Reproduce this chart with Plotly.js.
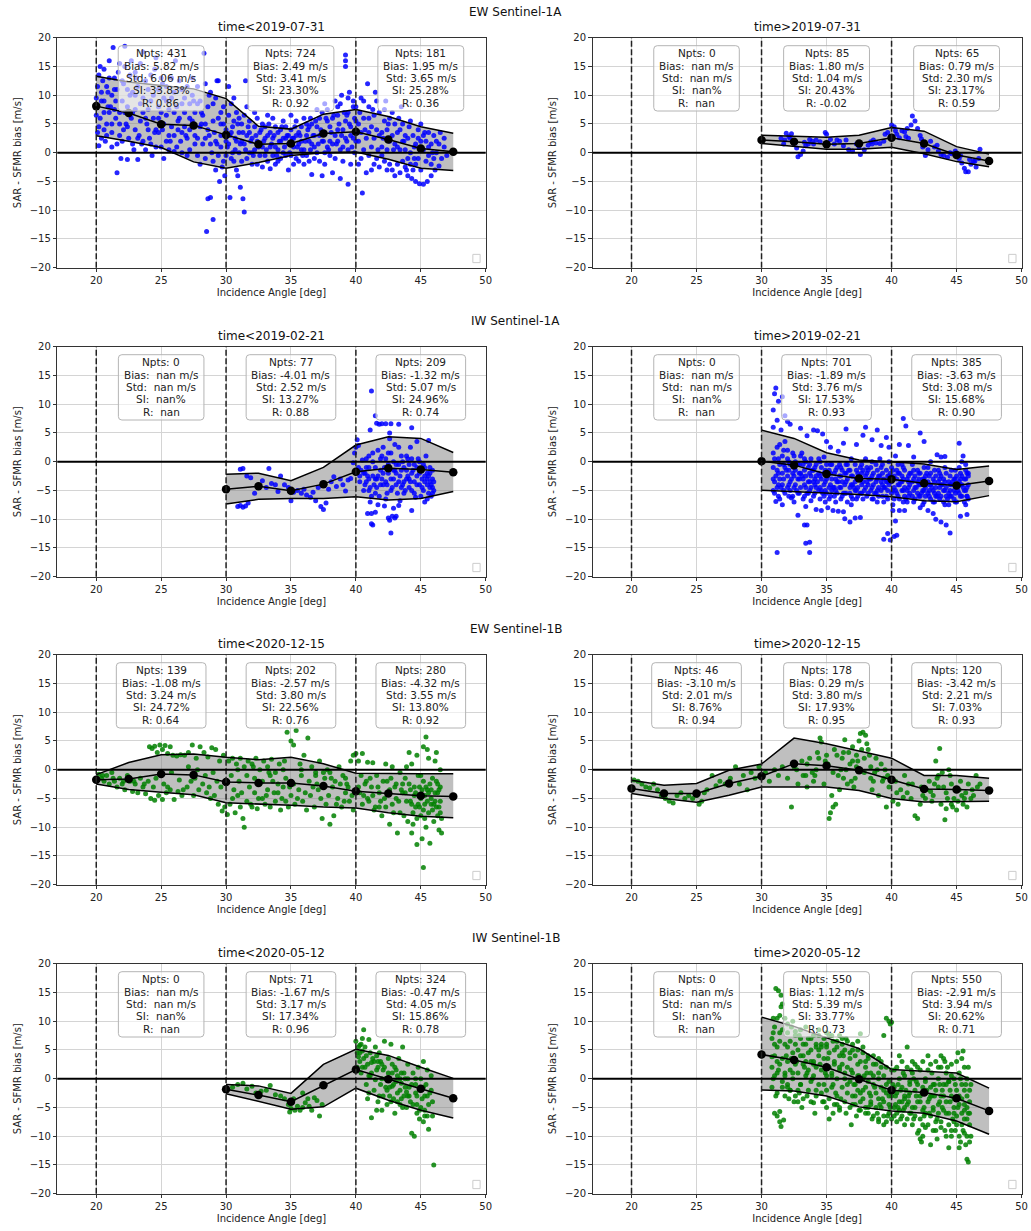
<!DOCTYPE html>
<html><head><meta charset="utf-8">
<script src="https://cdn.plot.ly/plotly-3.0.1.min.js"></script>
<style>body{margin:0;padding:0;background:#fff}#chart{width:1031px;height:1231px}</style>
</head><body><div id="chart"></div>
<script>
const bins = [20,22.5,25,27.5,30,32.5,35,37.5,40,42.5,45,47.5];
const boundaries = [20,30,40];
const boxCenters = [25,35,45];
const refY = 0;
const rowTitles = ['EW Sentinel-1A','IW Sentinel-1A','EW Sentinel-1B','IW Sentinel-1B'];
const panelTitles = ['time<2019-07-31','time>2019-07-31','time<2019-02-21','time>2019-02-21',
                     'time<2020-12-15','time>2020-12-15','time<2020-05-12','time>2020-05-12'];
const pointColors = ['#0000ff','#0000ff','#0000ff','#0000ff','#008000','#008000','#008000','#008000'];

// binned mean / mean+std / mean-std per panel (null = empty bin)
const mean1 = [8.1,6.9,4.95,4.75,3.1,1.45,1.6,3.35,3.65,2.3,0.75,0.15];
const upper1 = [13.3,12.3,11.7,11.1,9.4,4.6,4.1,6.7,7.5,6.3,4.5,3.4];
const lower1 = [2.95,2.0,0.9,-1.6,-2.7,-1.7,-0.5,0.0,0.1,-1.15,-2.7,-3.1];
const mean2 = [null,null,null,null,2.2,1.9,1.45,1.6,2.6,1.6,-0.4,-1.45];
const upper2 = [null,null,null,null,3.05,2.9,2.7,3.05,4.4,3.75,1.05,-0.25];
const lower2 = [null,null,null,null,1.6,1.05,0.6,0.6,0.95,-0.2,-1.55,-2.45];
const mean3 = [null,null,null,null,-4.8,-4.25,-5.05,-3.9,-1.75,-1.15,-1.35,-1.85];
const upper3 = [null,null,null,null,-2.2,-2.0,-3.3,-1.0,2.9,4.35,4.05,1.6];
const lower3 = [null,null,null,null,-7.35,-6.55,-6.4,-6.4,-6.1,-6.65,-6.4,-5.2];
const mean4 = [null,null,null,null,0.1,-0.6,-2.15,-2.9,-3.05,-3.75,-4.15,-3.35];
const upper4 = [null,null,null,null,5.5,4.05,1.55,0.3,0.0,-0.4,-1.35,-0.75];
const lower4 = [null,null,null,null,-4.95,-5.2,-5.4,-5.7,-6.1,-6.8,-6.95,-5.9];
const mean5 = [-1.75,-1.6,-0.75,-0.9,-2.15,-2.3,-2.3,-2.85,-3.75,-4.15,-4.55,-4.65];
const upper5 = [-0.85,1.25,2.6,2.75,2.15,1.75,2.15,1.05,-0.6,-0.7,-0.7,-0.7];
const lower5 = [-2.5,-3.45,-3.9,-4.35,-5.75,-5.95,-6.2,-6.5,-6.65,-7.5,-8.1,-8.35];
const mean6 = [-3.25,-4.15,-4.15,-2.4,-1.15,1.05,0.7,-0.1,-1.75,-3.35,-3.45,-3.6];
const upper6 = [-1.85,-2.7,-2.4,-0.1,1.0,5.5,4.5,3.2,2.0,-1.0,-1.0,-1.5];
const lower6 = [-4.15,-5.0,-5.65,-4.45,-3.0,-3.0,-3.0,-3.6,-5.0,-5.6,-5.5,-5.5];
const mean7 = [null,null,null,null,-1.85,-2.85,-4.0,-1.15,1.6,-0.1,-1.75,-3.4];
const upper7 = [null,null,null,null,-1.0,-1.25,-2.55,2.5,5.1,4.05,2.0,0.05];
const lower7 = [null,null,null,null,-2.6,-4.0,-5.3,-4.9,-1.65,-3.75,-5.5,-6.85];
const mean8 = [null,null,null,null,4.2,3.25,2.0,-0.1,-2.0,-2.4,-3.4,-5.6];
const upper8 = [null,null,null,null,10.7,9.1,7.1,5.25,1.6,1.35,1.0,-1.65];
const lower8 = [null,null,null,null,-1.95,-2.15,-3.0,-4.9,-5.6,-6.0,-7.35,-9.65];

// statistics per panel, per incidence-angle range [20-30, 30-40, 40-50]
const statNpts = [[431,724,181],[0,85,65],[0,77,209],[0,701,385],[139,202,280],[46,178,120],[0,71,324],[0,550,550]];
const statBias = [[5.82,2.49,1.95],[NaN,1.80,0.79],[NaN,-4.01,-1.32],[NaN,-1.89,-3.63],[-1.08,-2.57,-4.32],[-3.10,0.29,-3.42],[NaN,-1.67,-0.47],[NaN,1.12,-2.91]];
const statStd = [[6.06,3.41,3.65],[NaN,1.04,2.30],[NaN,2.52,5.07],[NaN,3.76,3.08],[3.24,3.80,3.55],[2.01,3.80,2.21],[NaN,3.17,4.05],[NaN,5.39,3.94]];
const statSI = [[33.83,23.30,25.28],[NaN,20.43,23.17],[NaN,13.27,24.96],[NaN,17.53,15.68],[24.72,22.56,13.80],[8.76,17.93,7.03],[NaN,17.34,15.86],[NaN,33.77,20.62]];
const statR = [[0.86,0.92,0.36],[NaN,-0.02,0.59],[NaN,0.88,0.74],[NaN,0.93,0.90],[0.64,0.76,0.92],[0.94,0.95,0.93],[NaN,0.96,0.78],[NaN,0.73,0.71]];

// individual collocations (incidence angle, bias)
const pts1 = [[20.1,11.5],[20.1,3.5],[20.2,1.2],[20.3,15],[20.4,9],[20.5,12.5],[20.6,7],[20.7,2],[20.8,5],[20.9,10.5],[21,13],[21.1,8],[21.2,1],[21.3,18.3],[21.4,11],[21.5,6],[21.6,-3.5],[21.7,14],[21.8,3],[21.9,-1],[22,9],[22.1,12],[22.2,18.5],[22.3,5],[22.4,-1.2],[22.5,2.5],[22.6,10],[22.7,16],[22.8,7],[22.9,0.5],[23,4],[23.1,13],[23.2,-1.2],[23.4,8.5],[23.5,1.5],[23.6,17.5],[23.8,6],[24,11],[24.1,2.5],[24.3,-0.5],[24.5,14.5],[24.6,4],[24.8,8],[25,1],[25.1,12],[25.2,-1],[25.4,6.5],[25.6,3],[25.8,9.5],[26,0.2],[26.1,16],[26.3,5.5],[26.5,2],[26.6,11],[26.8,7],[27,-0.5],[27.2,4],[27.4,13],[27.6,1.5],[27.8,8.5],[28,-2],[28.1,5],[28.3,17.3],[28.4,2.5],[28.5,-13.7],[28.6,-8],[28.7,10],[28.8,-7.8],[28.9,0],[29,-11.6],[29.1,3.5],[29.2,-3],[29.3,12.5],[29.4,6],[29.5,-5],[29.6,1],[29.7,-2.5],[29.8,8],[29.9,-4],[30,2],[30.2,11.5],[30.3,-7.8],[30.4,-1],[30.5,4.5],[30.6,9.5],[30.7,0.5],[30.8,-3],[30.9,-4],[31,6],[31.1,-6],[31.2,2],[31.3,-8],[31.4,-10.3],[31.5,12.5],[31.6,-1],[31.8,3.5],[32,0],[32.2,7],[32.4,-2],[32.6,1.5],[32.8,5],[33,-0.5],[33.2,3],[33.4,-2.8],[33.6,6],[33.8,1],[34,-1.5],[34.2,4],[34.4,0],[34.6,2.5],[34.8,-3],[35,6.5],[35.2,1],[35.4,-1],[35.6,3.5],[35.8,0.5],[36,-2],[36.2,5],[36.4,2],[36.6,-3.8],[36.8,1],[37,7.5],[37.2,3],[37.4,-4],[37.6,0],[37.8,5.5],[38,2],[38.2,-3.5],[38.4,9],[38.6,4],[38.8,-4.5],[39,1],[39.2,17],[39.2,16],[39.2,15],[39.3,6.5],[39.4,-5.5],[39.5,10.5],[39.6,3],[39.8,8],[39.9,0],[40,5.5],[40.2,2],[40.4,-1],[40.5,-7],[40.7,4],[40.9,12],[41,6],[41.2,1],[41.4,-2],[41.6,9],[41.8,3],[42,-0.5],[42.2,5.5],[42.4,-3],[42.6,2],[42.8,7],[43,-4],[43.2,1],[43.4,4],[43.6,-1.5],[43.8,3],[44,-4],[44.3,-4.5],[44.6,-5],[44.9,-5.4],[45.2,-5.5],[45.5,-5],[45.8,-4],[46.1,-3],[46.4,-2.3],[44.5,1],[45,5],[45.3,3.5],[45.6,1],[45.9,0],[46.2,2],[46.5,3.5],[46.8,1],[47,-0.5],
[30.1,1],[30.3,3],[30.5,0],[30.7,2.5],[30.9,5],[31.1,1.5],[31.3,3.5],[31.5,0.5],[31.7,4.5],[31.9,2],[32.1,-0.5],[32.3,3],[32.5,1],[32.7,4],[32.9,2],[33.1,0.5],[33.3,5],[33.5,1.5],[33.7,3],[33.9,-0.5],[34.1,2],[34.3,4.5],[34.5,1],[34.7,3],[34.9,0],[35.1,2.5],[35.3,4.5],[35.5,1],[35.7,3],[35.9,-0.5],[36.1,2],[36.3,4],[36.5,0.5],[36.7,3],[36.9,5.5],[37.1,1.5],[37.3,4],[37.5,2],[37.7,6],[37.9,0.5],[38.1,3.5],[38.3,6.5],[38.5,1.5],[38.7,5],[38.9,3],[39.1,7],[39.3,2],[39.5,5],[39.7,1],[39.9,6],[38.6,8],[39.4,9.5],[38.9,10],[37.6,8.5],[36.5,6],
[20.3,6],[20.6,4],[20.9,8],[21.2,5],[21.5,9],[21.8,7],[22.1,4],[22.4,8],[22.7,6],[23,10],[23.3,3],[23.6,7],[23.9,5],[24.2,9],[24.5,3.5],[24.8,6],[25.1,4],[25.4,9],[25.7,2],[26,7],[26.3,4],[26.6,8.5],[26.9,3],[27.2,6],[27.5,9],[27.8,2.5],[28.1,7],[28.4,5],[28.7,3],[29,8.5],[29.3,1.5],[29.6,5],
[40.3,7],[40.6,9],[41,3.5],[41.3,7.5],[41.7,0.5],[42.1,2.5],[42.5,5],[42.9,0.5],[43.3,6],[43.7,2],[44.1,4.5],[44.5,-1],[44.8,2.5],[43.5,8],[42.3,9],[41.5,10.5],[41.2,-3],[43.9,-3],[44.2,-2],
[20.0,9.5],[20.0,6.5],[20.2,13.5],[20.2,4.5],[20.4,10.5],[20.4,2.5],[20.6,14.5],[20.6,9],[20.8,11.5],[20.8,3],[21.0,7],[21.0,16],[21.2,10],[21.2,3.5],[21.4,13],[21.4,7.5],[21.6,1.5],[21.6,11],[21.8,15.5],[21.8,5],[22.0,12.5],[22.0,2],[22.2,7],[22.2,15],[22.4,11],[22.4,4.5],[22.6,13.5],[22.6,6.5],[22.8,1.5],[22.8,10.5],[23.0,14],[23.0,7.5],[23.2,2.5],[23.2,11.5],[23.4,5.5],[23.4,15.5],[23.6,9.5],[23.6,2],[23.8,12.5],[23.8,0.5],[24.0,7.5],[24.0,4],[24.2,13.5],[24.2,1.5],[24.4,10],[24.4,6],[24.6,16.5],[24.6,1],[24.8,11],[24.8,3.5],[25.0,7],[25.0,13],[25.2,5],[25.2,9.5],[25.4,2],[25.4,11.5],[25.6,7.5],[25.6,0.5],[25.8,4.5],[25.8,13],[26.0,10.5],[26.0,3],[26.2,8],[26.2,1],[26.4,12.5],[26.4,6],[26.6,3.5],[26.6,0],[26.8,9.5],[26.8,4.5],[27.0,11.5],[27.0,2.5],[27.2,8.5],[27.2,0.5],[27.4,5.5],[27.4,10],[27.6,3],[27.6,7],[27.8,11.5],[27.8,-0.5],[28.0,4.5],[28.0,9],[28.2,1.5],[28.2,6.5],[28.4,12],[28.4,-1],[28.6,4],[28.6,8],[28.8,1.5],[28.8,10.5],[29.0,5.5],[29.0,-1.5],[29.2,9.5],[29.2,2],[29.4,-0.5],[29.4,12.5],[29.6,7],[29.6,3],[29.8,-1.5],[29.8,5],
[30.0,4],[30.0,-0.5],[30.2,6.5],[30.2,1.5],[30.4,3.5],[30.4,8.5],[30.6,-1.5],[30.6,5.5],[30.8,2],[30.8,7],[31.0,0],[31.0,3.5],[31.2,5],[31.2,-1.5],[31.4,1.5],[31.4,6.5],[31.6,3],[31.6,8],[31.8,0],[31.8,5.5],[32.0,2.5],[32.0,-2],[32.2,4.5],[32.2,0.5],[32.4,6],[32.4,2],[32.6,-0.5],[32.6,3.5],[32.8,1],[32.8,-2.5],[33.0,2.5],[33.0,4.5],[33.2,-1.5],[33.2,6.5],[33.4,1],[33.4,3.5],[33.6,-0.5],[33.6,2.5],[33.8,4.5],[33.8,-2],[34.0,3.5],[34.0,0.5],[34.2,2],[34.2,-1],[34.4,5.5],[34.4,2.5],[34.6,-0.5],[34.6,4.5],[34.8,1.5],[34.8,3],[35.0,-0.5],[35.0,4],[35.2,2.5],[35.2,-2],[35.4,3],[35.4,5.5],[35.6,1.5],[35.6,-1.5],[35.8,4.5],[35.8,2],[36.0,0.5],[36.0,6],[36.2,-0.5],[36.2,3],[36.4,4.5],[36.4,-1.5],[36.6,1.5],[36.6,5],[36.8,3],[36.8,-1],[37.0,4.5],[37.0,0],[37.2,6],[37.2,-1.5],[37.4,2],[37.4,7],[37.6,3.5],[37.6,-2],[37.8,1],[37.8,7.5],[38.0,4.5],[38.0,-0.5],[38.2,6],[38.2,1.5],[38.4,3],[38.4,-1],[38.6,6.5],[38.6,2],[38.8,0.5],[38.8,8.5],[39.0,4],[39.0,-1.5],[39.2,5.5],[39.2,2.5],[39.4,7],[39.4,0.5],[39.6,4.5],[39.6,-2],[39.8,2.5],[39.8,9],
[40.0,2],[40.0,8],[40.2,5],[40.2,-2],[40.4,3.5],[40.4,9.5],[40.6,0.5],[40.6,6],[40.8,-3.5],[40.8,2.5],[41.0,8],[41.0,-0.5],[41.2,4.5],[41.4,2.5],[41.4,6.5],[41.6,-1],[41.6,4],[41.8,7],[41.8,-2.5],[42.0,3.5],[42.0,1],[42.2,-1.5],[42.2,7.5],[42.4,4],[42.4,0.5],[42.6,-2],[42.6,6],[42.8,3],[42.8,-3],[43.0,1.5],[43.0,5],[43.2,-2],[43.2,3.5],[43.4,0.5],[43.4,-3.5],[43.6,5],[43.6,2],[43.8,-2.5],[43.8,0.5],[44.0,2.5],[44.0,-1],[44.2,0],[44.2,5.5],[44.4,3],[44.4,-3],[44.6,1.5],[44.6,-2],[44.8,4],[44.8,-1],[45.0,2],[45.0,-3],[45.2,0.5],[45.2,3],[45.4,-1.5],[45.4,2],[45.6,3.5],[45.6,-0.5],[45.8,1.5],[45.8,-2],[46.0,3],[46.0,-1],[46.2,0],[46.4,1.5],[46.6,-1],[46.8,2.5]];

const pts2 = [[31.5,2.5],[31.7,1.5],[31.9,3.4],[32.1,2.8],[32.3,3.3],[32.5,1.8],[32.7,0.8],[32.8,-0.7],[33,-0.3],[33.2,0.3],[33.4,1.2],[33.6,1.5],[33.9,2.0],[34.2,2.2],[34.5,1.9],[34.9,3.5],[35.0,3.2],[35.3,2.3],[35.6,1.5],[36,2.0],[36.3,1.2],[36.7,0.5],[37,0.3],[37.3,1.5],[37.6,-0.3],[37.9,0.5],[38.2,1.3],[38.5,1.5],[38.8,1.7],[39.1,1.6],[39.4,2.0],[39.7,3.5],[40,4.8],[40.2,4.5],[40.4,3.2],[40.6,2.6],[40.8,3.8],[41,3.6],[41.2,4.2],[41.5,4.8],[41.6,6.4],[41.8,5.5],[42,4.2],[42.2,3.0],[42.4,1.0],[42.6,-0.5],[42.8,0.5],[43,2.0],[43.3,1.0],[43.6,0.3],[44,-0.5],[44.3,-0.8],[44.6,-0.2],[44.9,0.3],[45.2,-1.0],[45.4,-1.8],[45.6,-2.7],[45.7,-3.3],[45.9,-3.3],[46.1,-2.0],[46.3,-1.5],[46.5,-2.5],[46.7,-1.0],[46.8,0.6],[46.4,-1.5],[31.8,2.2],[33.7,2.3],[36.5,2.2],[38.4,1.9],[39.9,2.8],[41.3,2.5],[43.8,-0.3],[32.2,2.5],[33.3,1.8],[34,1.5],[35.8,2.2],[37.5,1],[38.6,2.2],[39.5,3.2],[40.3,3.8],[41.1,2.8],[42.3,2.4],[43.5,1.3],[44.5,0],[45.3,-0.5],[46,-1.2]];

const pts3 = [[30.9,-7.8],[31.1,-7.6],[31.3,-7.9],[31.5,-7.7],[31.7,-7.2],[31.1,-1.3],[31.3,-1.2],[31.6,-2.5],[31.9,-2.8],[32.2,-5.5],[32.5,-4.3],[32.8,-3.3],[33.1,-4.5],[33.3,-1.2],[33.5,-3.8],[33.8,-4.0],[34,-5.2],[34.2,-2.5],[34.5,-4.0],[34.8,-4.5],[35,-6.8],[35.2,-5.3],[35.5,-5.0],[35.8,-5.5],[36,-4.8],[36.2,-5.8],[36.5,-6.2],[36.7,-5.3],[36.9,-6.8],[37.1,-4.5],[37.3,-7.8],[37.5,-8.3],[37.7,-7.2],[37.9,-4.8],[38.1,-3.5],[38.3,-2.6],[38.5,-4.3],[38.8,-3.0],[39,-4.0],[39.2,-5.1],[39.4,-3.2],[39.6,-2.9],[39.8,-0.2],[39.9,1.5],[40,2.5],[40.1,3.8],[40.2,-1.0],[40.3,-3.5],[40.5,0.3],[40.7,-2.0],
[41.2,12.3],[41.5,8],[41.1,5.5],[41.6,6.7],[41.8,6.5],[42.0,6.6],[42.3,6.6],[42.6,5.0],[42.7,6.6],[43.3,6.5],[44.3,5.9],[44.7,3.5],[40.2,2.8],[41,-1],[41.3,-2.5],[41.4,-4],[41,-5],[41.1,-7],[41.2,-9],[40.9,-9],[41.2,-10.8],[41.3,-11],[41.5,-8.8],[41.7,-7.5],[42.2,-7.7],[42.5,-9.8],[42.6,-10.2],[42.8,-9.5],[43,-9.8],[42.9,-8.1],[43.3,-7.6],[42.7,-12.4],[43.4,-6.8],[44.3,-8.5],[45.5,-6.5],[45.2,-5],
[40.6,-2],[40.8,-3.5],[41,1],[41.3,0],[41.5,-3],[41.7,2],[41.9,-1.5],[42.1,-4],[42.3,0.5],[42.5,-2],[42.7,1.5],[42.9,-3],[43.1,-0.5],[43.3,2.5],[43.5,-4.5],[43.7,-1],[43.9,1],[44.1,-3],[44.3,-5],[44.5,-0.5],[44.7,-2.5],[44.9,-4],[45.1,-1.5],[45.3,-3.5],[45.5,-2],[45.7,-4.5],[45.9,-3],[45.6,-5.5],[45.8,-6],[45.4,1],[45.6,3.7],[45.2,-0.5],[44.8,0.5],[44.4,-1.5],[44,-2.5],[43.6,0],[43.2,-5.5],[42.8,-4.5],[42.4,-5.5],[42,-3],[41.6,-4.5],[41.2,-6],[40.9,-2.5],[40.7,-4],[43,3],[42.6,4],[44.2,2.5],[45,-6],[45.9,-4.5],[46,-5],[45.7,-1],[43.8,-5],[43.4,-2.5],[42.2,-1],[41.8,-6],[44.6,-6.2],[45.3,-7],[43.1,-9.5],[42,1],[44,0.5],[43,-1.5],
[40.4,-1.5],[40.6,-5],[40.8,0.5],[41,-3],[41.1,-4.5],[41.3,1.5],[41.5,-1],[41.5,-5.5],[41.7,-2.5],[41.9,0.5],[41.9,-4],[42.1,-2],[42.1,2.5],[42.3,-3.5],[42.3,-6.5],[42.5,-0.5],[42.5,1.5],[42.7,-3],[42.7,-5],[42.9,0],[42.9,-1.5],[43.1,-4],[43.1,-2],[43.3,-0.5],[43.3,-3.5],[43.5,-1.5],[43.5,1],[43.7,-3.5],[43.7,-5.5],[43.9,-1.5],[43.9,-3],[44.1,-0.5],[44.1,-4.5],[44.3,-2],[44.3,0.5],[44.5,-3.5],[44.5,-5.5],[44.7,-1],[44.7,-4],[44.9,-2],[44.9,0],[45.1,-3],[45.1,-4.5],[45.3,-1],[45.3,-2.5],[45.5,-4],[45.5,-3],[45.7,-2],[45.7,-3.5],[45.9,-5.5],[45.9,-1.5],[46,-3.5],[45.8,-4],[45.6,-2.5],[44.2,-3.5],[43.6,-4],[42.4,-4],[41.6,-3],[40.8,-1],[40.3,-2.5]];

const pts4 = [[31.1,12.8],[31.0,11.8],[30.9,9],[31.3,10.5],[31.6,11.3],[31.8,8],[32,7],[32.2,6.5],[30.9,6],[31.2,7.2],[31.5,5.5],
[31.2,-15.8],[33.7,-15.8],[33.4,-14.2],[33.7,-14],[33.3,-11],[33.5,-11],[32.8,-9.3],[34.2,-8.3],[34.6,-8.5],[35.1,-8],[35.5,-8.5],[35.9,-8.6],[36.3,-8.7],[36.4,-9.9],[36.8,-10.5],[37.2,-9.8],[37.6,-9.7],[39.4,-13.5],[39.7,-12.5],[39.9,-13.6],[40.2,-13],[40.4,-12.8],[40.3,-10.3],[40.1,-8.5],[40.6,-8.5],[41,-8.5],[42.2,-8],[42.8,-8.5],[43.4,-10],[43.8,-10.5],[44.2,-11],[44.5,-12.4],[43.2,-9],[45.3,-9.5],[45.8,-9.2],[31.1,-6.9],[31.6,-7.5],[32.3,-6.3],[32.5,-7],[33.4,-7.8],[33.8,-6.8],
[33,5.8],[33.5,4.5],[34,5.5],[34.3,5.4],[34.7,4.8],[35,3.5],[35.3,2.5],[35.9,1.8],[36.3,3.2],[36.5,5.7],[37.3,3],[37.8,4.6],[38,6],[38.5,3.8],[38.9,5.5],[39.2,2.8],[39.6,4.2],[39.8,2.5],[40.3,1],[40.6,3],[40.9,7.5],[41.1,6.2],[41.3,2.8],[41.7,0.8],[42.2,5],[42.5,3.5],[43,0],[43.5,1.2],[43.8,0.8],[44.1,0.9],[45.2,3.2],[45.5,1],[45.7,-0.5],[45.4,0],[40.8,-0.5],[39.1,0.5],[36.9,0.5],[34.8,0.8],[33.1,1.5],[32,2],[31.4,3],
[30.9,-1],[30.9,-3],[30.9,-5],[30.9,1.5],[31.3,-2],[31.3,-4],[31.3,0.5],[31.3,-6],[31.7,-0.5],[31.7,-3],[31.7,-5],[31.7,2],[32.1,-1.5],[32.1,-4],[32.1,-6],[32.1,0],[32.5,-2.5],[32.5,-1],[32.5,-4.5],[32.5,1],[32.9,-3],[32.9,-0.5],[32.9,-5.5],[32.9,-2],[33.3,-1.5],[33.3,-4],[33.3,-6],[33.3,0.5],[33.7,-2],[33.7,-3.5],[33.7,-5],[33.7,-0.5],[34.1,-1],[34.1,-3],[34.1,-5.5],[34.1,-4],[34.5,-2.5],[34.5,-4.5],[34.5,-6.5],[34.5,0],[34.9,-1.5],[34.9,-3.5],[34.9,-5],[34.9,-7],[35.3,-2],[35.3,-4],[35.3,-6],[35.3,-0.5],[35.7,-3],[35.7,-1.5],[35.7,-5],[35.7,-7],[36.1,-2.5],[36.1,-4.5],[36.1,-6.5],[36.1,-1],[36.5,-3.5],[36.5,-2],[36.5,-5.5],[36.5,-0.5],[36.9,-2.5],[36.9,-4],[36.9,-6],[36.9,-7.5],[37.3,-3],[37.3,-1.5],[37.3,-5],[37.3,-6.5],[37.7,-2],[37.7,-4],[37.7,-5.5],[37.7,-0.5],[38.1,-3.5],[38.1,-2],[38.1,-6],[38.1,-1],[38.5,-2.5],[38.5,-4.5],[38.5,-6.5],[38.5,0],[38.9,-3],[38.9,-1.5],[38.9,-5],[38.9,-7],[39.3,-4],[39.3,-2],[39.3,-6],[39.3,-0.5],[39.7,-2.5],[39.7,-5],[39.7,-3.5],[39.7,-6.5],[40.1,-3],[40.1,-1.5],[40.1,-5],[40.1,-7.5],[40.5,-4],[40.5,-2],[40.5,-6],[40.5,-0.5],[40.9,-3],[40.9,-5],[40.9,-1],[40.9,-7],[41.3,-4.5],[41.3,-2.5],[41.3,-6],[41.3,-3.5],[41.7,-3],[41.7,-5],[41.7,-1.5],[41.7,-7],[42.1,-4],[42.1,-2],[42.1,-6],[42.1,-3],[42.5,-5],[42.5,-3],[42.5,-7],[42.5,-1],[42.9,-4],[42.9,-2.5],[42.9,-6],[42.9,-5],[43.3,-3.5],[43.3,-5.5],[43.3,-1.5],[43.3,-7],[43.7,-4.5],[43.7,-2],[43.7,-6.5],[43.7,-3],[44.1,-3.5],[44.1,-5],[44.1,-1],[44.1,-7.5],[44.5,-4],[44.5,-6],[44.5,-2.5],[44.5,-5],[44.9,-3],[44.9,-5.5],[44.9,-7],[44.9,-1.5],[45.3,-4],[45.3,-2],[45.3,-6],[45.3,-3],[45.7,-5],[45.7,-3],[45.7,-7.5],[45.7,-1.5],[45.9,-4],[45.9,-2.5],[45.9,-6.5],[45.9,-2],
[31.1,-2.5],[31.5,-4.5],[31.9,-1.5],[32.3,-3],[32.7,-5],[33.1,-2.5],[33.5,-5.5],[33.9,-1.5],[34.3,-3.5],[34.7,-5.5],[35.1,-2.5],[35.5,-4.5],[35.9,-3.5],[36.3,-5.5],[36.7,-1.5],[37.1,-4.5],[37.5,-2.5],[37.9,-5],[38.3,-3],[38.7,-5.5],[39.1,-2.5],[39.5,-4.5],[39.9,-2],[40.3,-5],[40.7,-3.5],[41.1,-6.5],[41.5,-2],[41.9,-4.5],[42.3,-5.5],[42.7,-2],[43.1,-4.5],[43.5,-6],[43.9,-4],[44.3,-6.5],[44.7,-3.5],[45.1,-5],[45.5,-4.5],[45.8,-6],
[31.0,0.5],[31.0,-3.5],[31.0,-5.5],[31.2,-1.5],[31.2,2.5],[31.2,-4.5],[31.4,-0.5],[31.4,-3],[31.4,-6.5],[31.6,1],[31.6,-2],[31.6,-4],[31.8,-1],[31.8,-5.5],[31.8,3.5],[32.0,-2.5],[32.0,0.5],[32.0,-4.5],[32.2,-0.5],[32.2,-3.5],[32.2,-5],[32.4,1.5],[32.4,-2],[32.4,-6],[32.6,-1.5],[32.6,-4],[32.6,0],[32.8,-3],[32.8,-0.5],[32.8,-5.5],[33.0,-2],[33.0,1],[33.0,-4.5],[33.2,-0.5],[33.2,-3],[33.2,-6.5],[33.4,-2.5],[33.4,0],[33.4,-4.5],[33.6,-1],[33.6,-3.5],[33.6,-5.5],[33.8,0.5],[33.8,-2.5],[33.8,-4.5],[34.0,-1.5],[34.0,-3.5],[34.0,-6],[34.2,-0.5],[34.2,-4.5],[34.2,-2.5],[34.4,-2],[34.4,-5],[34.4,0.5],[34.6,-3],[34.6,-1],[34.6,-5],[34.8,-2],[34.8,-4],[34.8,-6],[35.0,-0.5],[35.0,-3],[35.0,-5.5],[35.2,-1.5],[35.2,-4.5],[35.2,-6.5],[35.4,-3],[35.4,-0.5],[35.4,-5],[35.6,-2],[35.6,-4.5],[35.6,-6],[35.8,-1],[35.8,-3.5],[35.8,-5.5],[36.0,-2.5],[36.0,-4.5],[36.0,-0.5],[36.2,-3.5],[36.2,-1.5],[36.2,-6],[36.4,-2],[36.4,-4],[36.4,-5.5],[36.6,-3],[36.6,-0.5],[36.6,-7],[36.8,-1.5],[36.8,-4.5],[36.8,-5.5],[37.0,-2.5],[37.0,-4],[37.0,-6.5],[37.2,-3.5],[37.2,-0.5],[37.2,-5],[37.4,-2],[37.4,-4.5],[37.4,-6],[37.6,-3],[37.6,-1],[37.6,-5.5],[37.8,-1.5],[37.8,-3.5],[37.8,-6.5],[38.0,-2.5],[38.0,-4.5],[38.0,0.5],[38.2,-4],[38.2,-1.5],[38.2,-5.5],[38.4,-3],[38.4,-5],[38.4,-1],[38.6,-2],[38.6,-4],[38.6,-6.5],[38.8,-3.5],[38.8,-0.5],[38.8,-5.5],[39.0,-2.5],[39.0,-4.5],[39.0,-6],[39.2,-1],[39.2,-3.5],[39.2,-5],[39.4,-3],[39.4,-4.5],[39.4,-7],[39.6,-1.5],[39.6,-3.5],[39.6,-6],[39.8,-4],[39.8,-2.5],[39.8,0],[40.0,-3.5],[40.0,-5.5],[40.0,-1],[40.2,-2.5],[40.2,-4.5],[40.2,-6.5],[40.4,-3],[40.4,-1.5],[40.4,-5.5],[40.6,-4],[40.6,-2],[40.6,-6.5],[40.8,-2.5],[40.8,-5],[40.8,-3.5],[41.0,-4.5],[41.0,-1.5],[41.0,-6],[41.2,-3],[41.2,-5],[41.2,-7],[41.4,-2],[41.4,-4],[41.4,-5.5],[41.6,-3.5],[41.6,-6],[41.6,-0.5],[41.8,-2.5],[41.8,-4.5],[41.8,-6.5],[42.0,-3.5],[42.0,-5.5],[42.0,-1.5],[42.2,-4],[42.2,-2],[42.2,-6],[42.4,-3],[42.4,-5],[42.4,-7.5],[42.6,-4.5],[42.6,-2.5],[42.6,-6],[42.8,-3.5],[42.8,-5.5],[42.8,-1],[43.0,-4],[43.0,-2],[43.0,-6.5],[43.2,-3],[43.2,-5],[43.2,-7],[43.4,-4.5],[43.4,-2.5],[43.4,-6],[43.6,-3.5],[43.6,-5.5],[43.6,-1.5],[43.8,-4],[43.8,-6],[43.8,-2.5],[44.0,-3],[44.0,-5],[44.0,-7],[44.2,-4.5],[44.2,-2],[44.2,-6],[44.4,-3.5],[44.4,-5.5],[44.4,-7.5],[44.6,-4],[44.6,-1.5],[44.6,-6],[44.8,-3],[44.8,-5],[44.8,-6.5],[45.0,-4.5],[45.0,-2.5],[45.0,-7],[45.2,-3.5],[45.2,-5.5],[45.2,-1],[45.4,-4],[45.4,-6],[45.4,-2.5],[45.6,-3],[45.6,-5],[45.6,-7],[45.8,-4.5],[45.8,-2],[45.8,-6]];

const pts5 = [[20.2,-0.8],[20.4,-1.5],[20.6,-2],[20.8,-1],[21,-2.5],[21.2,-0.5],[21.4,-2],[21.6,-3],[21.8,-1.5],[22,-2.5],[22.2,-3.5],[22.4,-1],[22.6,-2],[22.8,-3.8],[23,-2.5],[23.2,-4],[23.4,-1.5],[23.6,-3],[23.8,-4.2],[24,-2],
[24.1,4],[24.3,3.7],[24.5,4.1],[24.7,3],[24.9,4.3],[25.1,3.5],[25.3,4.2],[25.5,2.8],[25.7,4],[25.9,2.5],[26.2,2.4],[26.5,2.6],[26.8,2.5],[27.1,3],[27.4,4.3],[27.7,2],[28,4],[28.3,3],[28.6,2.2],[28.9,3.8],[29.2,3.5],[29.5,1.5],[29.8,2.5],
[24.2,-5],[24.5,-5.3],[24.8,-4.5],[25.1,-5.2],[25.4,-4],[25.7,-3.5],[26,-5.2],[26.3,-3.8],[26.6,-4.5],[27,-3],[27.3,-2],[27.6,-1.5],[27.9,-3.5],[28.2,-2.5],[28.5,-4],[28.8,-5],[29.1,-4.5],[29.4,-6],[29.7,-7.2],[29.9,-6.5],[24.6,-1.5],[25.2,-2.5],[25.8,-0.5],[26.4,-1.8],[27.1,0.5],[27.8,0],[28.4,-1],[29,-0.5],[29.6,-3],
[30.1,-7.8],[30.3,-6],[30.5,-5],[30.7,-7.5],[30.9,-4.5],[31.1,-6.5],[31.3,-8.5],[31.4,-10],[31.6,-5.5],[31.8,-3],[32,-6.5],[32.2,-4],[32.4,-6.8],[32.6,-2.5],[32.8,-5],[33,-6],[33.2,-3.5],[33.4,-6.5],[33.6,-2],[33.8,-5.5],[34,-4],[34.2,-7],[34.4,-3],[34.6,-5.5],[34.8,-6.5],[35,-4.5],[35.3,-6],[35.6,-3.5],[35.9,-5.5],[36.2,-7],[36.5,-4.5],[36.8,-6.5],[37.1,-3.5],[37.4,-8.5],[37.7,-6],[38,-9.5],[38.3,-8],[38.6,-5],[38.9,-6.5],[39.2,-4],[39.5,-5.5],[39.8,-7],
[30.2,1.5],[30.5,2],[30.8,1],[31.1,2],[31.4,0.5],[31.7,1.5],[32,1],[32.3,2],[32.6,0],[32.9,1.5],[33.2,0.5],[33.5,1.8],[33.8,-0.5],[34.1,1],[34.4,0],[34.7,6.5],[35,5],[35.2,4.3],[35.4,6.8],[35.7,1],[36,2.5],[36.3,5.5],[36.6,0.5],[36.9,-1],[37.2,1.5],[37.5,-0.5],[37.8,0],[38.1,-1.5],[38.4,-2],[38.7,0.5],[39,-1],[39.3,-2.5],[39.6,1.5],[39.8,2.5],[40,2.8],[40.2,1.5],[30.4,-1],[31,-2],[31.6,-1],[32.2,-1.5],[32.8,-2],[33.4,-1],[34,-2.5],[34.6,-1.5],[35.2,-2.5],[35.8,-1],[36.4,-2],[37,-2.5],[37.6,-1.5],[38.2,-3],[38.8,-2.5],[39.4,-3],
[40.2,-3],[40.4,-1],[40.6,-4.5],[40.8,-2],[41,-5.5],[41.2,-3],[41.4,-7],[41.6,-1],[41.8,-4],[42,-8],[42.2,-5],[42.4,-2],[42.6,-9.5],[42.8,-6],[43,-3],[43.2,-11],[43.4,-7.5],[43.6,-4],[43.8,-1.5],[44,-9],[44.2,-5.5],[44.3,-11],[44.5,-3],[44.6,-6.5],[44.7,-13],[44.8,-1],[44.9,-4.5],[45,-8],[45.1,-12],[45.2,-17],[45.2,-2],[45.3,-6],[45.4,-10],[45.5,-3.5],[45.6,-7.5],[45.7,-12.8],[45.8,-5],[45.9,-1.5],[46,-9],[46.1,-4],[46.2,-6.5],[46.3,-2.5],[46.4,-10.5],[46.5,-5.5],[46.6,-11],[46.3,-8],[45.4,5.7],[45.5,3.5],[45.6,2],[44.1,3],[44.3,1],[43.9,0.5],[45.2,4],[44.7,2.5],[41.3,1.2],[42.3,1],[42.8,0.5],[43.4,-0.5],[45,-1],[46.1,1.5],[46.5,0],[46.2,3],[40.5,2.8],[40.9,1.3],[43.6,-2.5],[44.9,-3],[45.8,-3.5],[46.4,-3.5],[41.8,-6.5],[42.6,-3.5],[43.1,-5],[44.4,-7.5],[45.3,-4.5],[46,-6],[46.5,-7.5],
[40.3,-4],[40.5,-6],[40.7,-2.5],[40.9,-5],[41.1,-1.5],[41.3,-4.5],[41.5,-6.5],[41.7,-3],[41.9,-5.5],[42.1,-2],[42.3,-6.5],[42.5,-4],[42.7,-1.5],[42.9,-7.5],[43.1,-2.5],[43.3,-5.5],[43.5,-3.5],[43.7,-8],[43.9,-5.5],[44.1,-2.5],[44.3,-6],[44.5,-4.5],[44.7,-8.5],[44.9,-6.5],[45.1,-3.5],[45.3,-8.5],[45.5,-5.5],[45.7,-2.5],[45.9,-7],[46.1,-5.5],[46.3,-4],[46.5,-3],[46.6,-8.5],[44.6,-4],[45.0,-5],[45.4,-3],[45.8,-6],[46.2,-2],[44.2,-3.5],[43.8,-4],[44.8,-6],[45.6,-4],[46.4,-6.5],[45.2,-7],[44.4,-9.5],
[30.6,-3.5],[31.2,-4],[31.9,-6],[32.5,-5],[33.1,-4.5],[33.7,-4],[34.3,-5],[34.9,-3],[35.5,-5],[36.1,-4],[36.7,-3],[37.3,-5],[37.9,-4.5],[38.5,-6],[39.1,-5.5],[39.7,-4.5],[30.9,0],[32.1,0.5],[33.3,-0.5],[34.5,1.5],[35.8,0],[36.9,-0.5],[38,-0.5],[39.2,-1.5],
[20.5,-1],[21.3,-1.5],[22.1,-2],[22.9,-2],[23.7,-2.5],[24.4,-3],[25.5,-3],[26.7,-3.5],[27.5,-4.5],[28.7,-3],[29.3,-2]];

const pts6 = [[20.2,-1.8],[20.5,-2],[20.8,-2.5],[21.1,-3],[21.4,-3.2],[21.7,-2.5],[22,-3.5],[22.3,-4.5],[22.6,-5],[22.9,-5.5],[23.2,-5.8],[23.5,-4.5],[23.8,-4],[24.1,-5],[24.4,-4.5],[24.7,-5],[25,-4.5],[25.2,-6],[25.4,-5.5],[25.6,-4],[25.8,-3.5],[26.2,-1],[26.5,-2.8],[26.8,-2],[27.2,-2.5],[27.6,-1.5],[28,0.5],[28.3,-2.5],[28.6,-1],[28.9,-3.5],[29.2,-0.5],[29.5,-1.5],[29.8,0.5],
[30.3,-0.5],[30.6,-2],[31,0],[31.3,-1],[31.6,0.5],[32,-1.5],[32.3,-6.5],[32.5,0.5],[32.8,-2.5],[33.1,1.5],[33.4,-1],[33.7,2],[34,-2],[34.3,3],[34.5,5.5],[34.6,4.8],[34.8,-2.5],[35,2.5],[35.2,-8.5],[35.3,-7.5],[35.5,-6.5],[35.7,-6],[35.4,-4.5],[35.6,3.5],[35.9,-1],[36.2,2],[36.4,5.2],[36.6,-2.5],[36.8,1],[37,4],[37.2,-1.5],[37.3,2.5],[37.5,5],[37.6,6.3],[37.8,6.5],[38,6],[38.2,3.5],[38.4,0.5],[38.6,-2],[38.8,2],[39,-4.5],[39.2,1],[39.4,-1.5],[39.6,-6.5],[39.8,-3],[37.9,-0.5],[37.1,-3],[36.5,0],[36,-3.5],[35.1,1],[34.2,0],[33.5,-3],[38.5,-3.5],[39.5,0],[33.9,-0.5],[36.9,-2],[37.4,1.5],[38.3,2.5],[36.3,3],[37.7,3.5],
[33.5,1],[34.1,-1],[34.9,1.5],[35.5,-0.5],[36.1,0],[36.7,3],[37.3,0.5],[37.9,2],[38.4,-1.5],[38.9,0],[39.3,-2],[39.7,-1],[35.8,2.5],[36.3,-1.5],[37,1.5],[38.1,4.5],[38.7,-0.5],[34.4,2],[33.2,-1],[32.7,0],
[40.1,-5.5],[40.3,-2],[40.5,-6],[40.7,-3.5],[41,-1],[41.2,-4],[41.5,-5],[41.8,-8],[42,-8.5],[42.3,-3],[42.6,-5],[42.9,-2],[43.2,-4.5],[43.5,-1.5],[43.7,3.7],[43.8,-6],[44,-3],[44.1,-8.7],[44.3,-5],[44.5,-1],[44.7,-6.5],[44.9,-3.5],[45.1,-5.5],[45.3,-2],[45.5,-6],[45.7,-4],[45.9,-2.5],[46.2,-3.5],[46.5,-1],[46.8,-2.5],[44.2,-6.8],[45,-7],[43.9,-0.5],[44.6,-2.5],[45.4,-4.5],[46.1,-5],[40.9,-4.8],[41.6,-2.5],[42.2,-6],[43,-3.8],[43.4,1.5],[43.6,-1],[44.4,0],
[40.4,-4],[41.3,-2.5],[42.4,-4.5],[43.1,-5.5],[43.6,-3],[44.2,-4],[44.8,-5],[45.2,-3.5],[45.6,-5],[46.3,-4.5],[46.6,-3],[44.6,-6],[43.3,-2.5],[42.7,-3.5],[45.8,-6.5]];

const pts7 = [[30.5,-1.5],[30.9,-1],[31.3,-0.8],[31.6,-1.8],[32,-1.3],[32.3,-2.5],[32.7,-2.2],[33.1,-2],[33.4,-1.2],[33.8,-2.8],[34.2,-3],[34.5,-3.5],[34.8,-4.5],[35,-5.2],[35.3,-5.5],[35.5,-4.8],[35.7,-5.5],[35.9,-5],[36.1,-4.2],[36.3,-3.5],[36.6,-5.5],[36.8,-3.3],[37,-3.8],[37.2,-6.5],[37.4,-4.5],[36.4,-4.8],[35.9,-2.5],[34.9,-5.8],[35.2,-3.5],
[40,6.5],[40.1,4.5],[40.2,5.5],[40.3,3],[40.5,7],[40.6,8.5],[40.7,2],[40.8,4],[40.9,-3.5],[41,6.8],[41.1,0.5],[41.2,-6.8],[41.3,3.5],[41.4,-2],[41.5,5.5],[41.6,1.5],[41.7,-4],[41.8,4.5],[41.9,-1],[42,2.5],[42.1,-3],[42.2,6.5],[42.3,0],[42.4,-4.5],[42.5,3.5],[42.6,-1.5],[42.7,6],[42.8,1],[42.9,-3.5],[43,2],[43.1,-0.5],[43.2,-4],[43.3,3.5],[43.4,-2],[43.5,1],[43.6,5.5],[43.7,-3],[43.8,0],[43.9,-5],[44,2.5],[44.1,-1.5],[44.2,-4],[44.3,-9.5],[44.5,-10],[44.4,1],[44.6,-2.5],[44.7,-6],[44.8,2],[44.9,-7],[45,0],[45.1,-3.5],[45.2,3],[45.3,-5.5],[45.4,-1],[45.5,-6.5],[45.6,-8.8],[45.7,-2.5],[45.8,0.5],[45.9,-4],[46,-15],[45.5,1.5],[45.2,-7.5],[44.7,-4.5],[43,-6],[42,-5.5],[41,-2.5],[40.4,1],[40.8,-1],[41.6,-5.5],[42.4,-2],[43.4,-4.5],[44,-3],[44.6,0],[45.3,-3],[40.2,3.8],[40.5,4.8],[41.2,2.8],[42.1,1.5],[43.5,-0.8],[41.5,-0.2],[42.8,-1.3],[43.9,-2.3],[40.3,5.8],[41.7,3],[43.2,0.5],
[40.1,2],[40.3,4.5],[40.4,6],[40.6,3.5],[40.7,5.5],[40.9,2.5],[41.1,4.5],[41.2,1],[41.4,3],[41.6,4],[41.7,2],[41.9,3],[42,0],[42.2,2],[42.3,-1.5],[42.5,1],[42.6,-3],[42.8,2.5],[42.9,-1],[43.1,1.5],[43.2,-2.5],[43.4,0],[43.5,-3.5],[43.7,1],[43.8,-1.5],[44,0],[44.1,-3],[44.3,-1],[44.4,-4.5],[44.6,-1],[44.7,-3],[44.9,-2],[45,-5],[45.2,-1.5],[45.3,-6.5],[45.5,-3],[45.6,-4.5],[45.8,-2],[45.9,-6.5],[44.9,-5.5],[43.6,-5],[42.7,-4],[41.8,-3],[41,0.5],[40.5,2]];

const pts8 = [[31.1,15.7],[31.3,15.3],[31.5,12.5],[31.6,13],[31.5,14.5],[30.9,10.5],[31.2,10.5],[31.8,10.5],[32,9.5],[32.3,9],[32.6,8.2],[33,7],[33.4,6],[33.8,7],[34.2,5.5],[34.6,6],[35,8],[35.2,7.5],[35.5,6.5],[35.8,5.5],[36.2,6],[36.5,7],[37,5],[37.4,6.5],[37.8,5.5],[38.2,4],[38.6,2.5],[39,3.5],[39.4,7.5],[39.6,10.5],[39.8,10],[39.9,9.5],[40,9.8],
[31,-6],[31.2,-6.5],[31.4,-5.7],[31.4,-7.5],[31.5,-8.3],[31.7,-7.2],[32.1,-3.5],[32.5,-4],[32.8,-4],[33.5,-3],[34,-4.2],[35,-5],[35.5,-6],[36,-5.5],[36.5,-6],[37,-4.5],[36.9,-8],[37.5,-5.5],[38,-6],[38.5,-7],[39,-7.5],[39.4,-8],[39.7,-6.5],
[30.8,3.8],[30.9,0],[31.1,-3],[31.3,1.5],[31.6,-1.5],[31.9,4],[32.2,-2],[32.4,1],[32.7,3],[33,-1],[33.3,2],[33.6,4.5],[33.9,0],[34.2,-2],[34.5,2.5],[34.8,-1],[35.1,3.5],[35.4,0.5],[35.7,-2.5],[36,2],[36.3,4],[36.6,-1],[36.9,1.5],[37.2,-3],[37.5,0.5],[37.8,-2],[38.1,1],[38.4,-4],[38.7,-1.5],[39,0],[39.3,-3.5],[39.6,-1],[39.9,-5],[31,6],[31.4,8],[32,5.5],[32.6,6],[33.2,4],[33.8,3],[34.4,5],[35,5.5],[35.6,3],[36.2,4.5],[36.8,3.5],[37.4,2.5],[38,3],[38.6,0.5],[39.2,2],[33.1,-5],[34.1,-6],[35.2,-7],[36.1,-3.5],[37.3,-6.5],[38.2,-5],[39.1,-4.5],[32,-1],[34.7,-4],[35.8,-4.5],[37.6,-4],[38.9,-6],
[31.2,3],[31.8,1],[32.3,3.5],[32.9,-2.5],[33.5,1],[34,2.5],[34.9,1],[35.5,-1],[36.4,1],[37.1,-1],[37.9,0.5],[38.3,-2.5],[39.4,-2],[39.8,-3],[30.9,8],[32.9,7.5],[34.4,7.5],[36,7.5],[37.6,7.8],
[40.1,-1],[40.3,-3],[40.5,-5],[40.7,-7],[40.9,1],[41.1,-2],[41.3,-4],[41.5,-6],[41.2,5.5],[41.7,0],[41.9,-3],[42.1,-9],[42.2,-10.5],[42.3,-11],[42.4,-8],[42.5,-5],[42.7,-2],[42.9,-6],[43,-11.5],[43.1,1],[43.3,-3],[43.5,-7],[43.7,-1],[43.8,4],[43.9,-5],[44.1,-9],[44.3,2],[44.4,-12],[44.5,-4],[44.7,-7],[44.9,-1],[45.1,4.5],[45.2,-3],[45.3,-11],[45.4,-6],[45.5,-9],[45.6,-2],[45.7,-11.5],[45.8,-14],[45.9,-14.5],[45.8,-5],[46,-8],[46.1,-1],[45.9,2],[45.4,3.5],[44.6,0.5],[43.6,2],[42.8,4],[42,2],[41.6,3],[40.6,4],[40.2,1.5],[40.4,-6],[40.8,-4],[41.4,-1],[41.8,-5],[42.6,-8.5],[43.2,-5.5],[43.4,-9],[44,-3],[44.2,-6],[44.8,-3.5],[45,-8],[45.6,-7],[46,-4],[46.1,-10],[41,-8],[40.7,-2],[43,-1.5],[44.4,-0.5],[45.3,0],[41.5,1.5],[42.4,-1.5],[43.9,-2],[45.7,-1],[44.6,-10],[45.2,-12],[43.5,-10.5],[42.9,-3.5],[41.3,-3],[40.9,-5.5],[44.1,3],[45.5,4.8],
[40.5,-1],[41,-3.5],[41.9,-0.5],[42.2,-4],[42.6,0],[43.3,-1],[43.7,-4],[44.2,-1],[44.8,-6],[45.1,-5],[45.6,-4.5],[45.9,-6],[41.7,-7],[42.5,-6.5],[43.8,-7.5],[44.9,-9],[45.8,-10],[40.3,-4.5],[43.1,-3],[44.5,-2],
[30.8,7],[30.8,2],[30.8,-1.5],[31.0,9],[31.0,4],[31.0,0.5],[31.2,5.5],[31.2,1],[31.2,-2.5],[31.4,11],[31.4,6.5],[31.4,2.5],[31.6,8.5],[31.6,3.5],[31.6,-0.5],[31.8,6],[31.8,0.5],[31.8,-3],[32.0,8],[32.0,3],[32.0,-1.5],[32.2,6.5],[32.2,1.5],[32.2,-2],[32.4,10],[32.4,4.5],[32.4,0],[32.6,7.5],[32.6,2.5],[32.6,-3],[32.8,5],[32.8,1],[32.8,-2],[33.0,8.5],[33.0,4],[33.0,-1],[33.2,6],[33.2,2.5],[33.2,-3.5],[33.4,9],[33.4,3],[33.4,0.5],[33.6,7],[33.6,1.5],[33.6,-2],[33.8,5],[33.8,-0.5],[33.8,-4],[34.0,7.5],[34.0,3],[34.0,0.5],[34.2,6],[34.2,2],[34.2,-3],[34.4,8.5],[34.4,4],[34.4,-1],[34.6,5.5],[34.6,1.5],[34.6,-2.5],[34.8,7],[34.8,3.5],[34.8,-4],[35.0,6],[35.0,0.5],[35.0,-2],[35.2,4.5],[35.2,2],[35.2,-3.5],[35.4,7.5],[35.4,1],[35.4,-1.5],[35.6,5],[35.6,2.5],[35.6,-4.5],[35.8,6.5],[35.8,0],[35.8,-3],[36.0,4],[36.0,1.5],[36.0,-5],[36.2,7],[36.2,2.5],[36.2,-1.5],[36.4,5],[36.4,0],[36.4,-4],[36.6,6.5],[36.6,2],[36.6,-2.5],[36.8,4.5],[36.8,-0.5],[36.8,-5],[37.0,6],[37.0,1],[37.0,-3],[37.2,4],[37.2,-1],[37.2,-4.5],[37.4,5],[37.4,0.5],[37.4,-2],[37.6,3],[37.6,-2.5],[37.6,-5.5],[37.8,4.5],[37.8,0],[37.8,-3.5],[38.0,2],[38.0,-1.5],[38.0,-5],[38.2,3.5],[38.2,-0.5],[38.2,-6],[38.4,1],[38.4,-3],[38.4,-4.5],[38.6,4],[38.6,-1],[38.6,-6.5],[38.8,2.5],[38.8,-2.5],[38.8,-5],[39.0,1],[39.0,-3.5],[39.0,-7],[39.2,3],[39.2,-1.5],[39.2,-5],[39.4,0.5],[39.4,-4],[39.4,-6.5],[39.6,2],[39.6,-2.5],[39.6,-7.5],[39.8,-0.5],[39.8,-4.5],[39.8,-6],[40.0,1.5],[40.0,-3],[40.0,-7],[40.2,-1.5],[40.2,-5],[40.2,-6.5],[40.4,2],[40.4,-2.5],[40.4,-7.5],[40.6,0],[40.6,-4],[40.6,-5.5],[40.8,3],[40.8,-1.5],[40.8,-6.5],[41.0,0.5],[41.0,-3],[41.0,-5],[41.2,2],[41.2,-4.5],[41.2,-7],[41.4,-0.5],[41.4,-2.5],[41.4,-6],[41.6,1],[41.6,-5],[41.6,-8],[41.8,2.5],[41.8,-2],[41.8,-6.5],[42.0,-1],[42.0,-4],[42.0,-9.5],[42.2,1.5],[42.2,-3],[42.2,-7],[42.4,3],[42.4,-5.5],[42.4,-10],[42.6,-0.5],[42.6,-2.5],[42.6,-6],[42.8,1.5],[42.8,-4],[42.8,-8],[43.0,2.5],[43.0,-3],[43.0,-6.5],[43.2,-1],[43.2,-5],[43.2,-9],[43.4,3],[43.4,-2],[43.4,-7.5],[43.6,0],[43.6,-4.5],[43.6,-6],[43.8,2],[43.8,-3],[43.8,-8.5],[44.0,3.5],[44.0,-1],[44.0,-5.5],[44.2,1],[44.2,-4],[44.2,-10],[44.4,-0.5],[44.4,-6],[44.4,-8],[44.6,2.5],[44.6,-3],[44.6,-9],[44.8,0],[44.8,-5],[44.8,-7.5],[45.0,3],[45.0,-2],[45.0,-6.5],[45.2,1],[45.2,-4.5],[45.2,-10],[45.4,-1],[45.4,-3.5],[45.4,-8],[45.6,2],[45.6,-5.5],[45.6,-9.5],[45.8,0],[45.8,-3],[45.8,-7],[46.0,-2],[46.0,-6],[46.0,-11]];

const means = [mean1,mean2,mean3,mean4,mean5,mean6,mean7,mean8];
const uppers = [upper1,upper2,upper3,upper4,upper5,upper6,upper7,upper8];
const lowers = [lower1,lower2,lower3,lower4,lower5,lower6,lower7,lower8];
const points = [pts1,pts2,pts3,pts4,pts5,pts6,pts7,pts8];

const W = 1031, H = 1231;
const colX = [[57.3, 485.7],[592.5, 1021.6]];
const rowTop = [37.7, 346.7, 654.7, 963.7];
const plotH = 230;
const FONT = 'DejaVu Sans, Arial, sans-serif';
const BOXFONT = 10.5;

const measureCtx = document.createElement('canvas').getContext('2d');
measureCtx.font = BOXFONT + 'px "DejaVu Sans"';

const traces = [];
const layout = {
  width: W, height: H, margin: {l:0, r:0, t:0, b:0},
  paper_bgcolor: '#fff', plot_bgcolor: '#fff',
  showlegend: false, font: {family: FONT, size: 10, color: '#222'},
  shapes: [], annotations: []
};

function fmt(v, suffix) {
  if (isNaN(v)) return '\u00a0nan' + suffix;
  return v.toFixed(2) + suffix;
}

for (let p = 0; p < 8; p++) {
  const row = Math.floor(p / 2), col = p % 2;
  const n = p + 1;
  const xa = 'x' + (n === 1 ? '' : n), ya = 'y' + (n === 1 ? '' : n);
  const xk = 'xaxis' + (n === 1 ? '' : n), yk = 'yaxis' + (n === 1 ? '' : n);
  const top = rowTop[row];
  const pxPerDeg = (colX[col][1] - colX[col][0]) / 33;
  layout[xk] = {
    domain: [colX[col][0]/W, colX[col][1]/W], anchor: ya,
    range: [17, 50], dtick: 5, tick0: 0,
    showgrid: true, gridcolor: '#d4d4d4', gridwidth: 1, zeroline: false,
    showline: true, mirror: true, linecolor: '#333', linewidth: 1,
    ticks: 'outside', ticklen: 3.5, tickcolor: '#333',
    tickfont: {family: FONT, size: 10, color: '#222'},
    title: {text: 'Incidence Angle [deg]', font: {family: FONT, size: 10, color: '#222'}, standoff: 3}
  };
  layout[yk] = {
    domain: [1 - (top + plotH)/H, 1 - top/H], anchor: xa,
    range: [-20, 20], dtick: 5, tick0: 0,
    showgrid: true, gridcolor: '#d4d4d4', gridwidth: 1, zeroline: false,
    showline: true, mirror: true, linecolor: '#333', linewidth: 1,
    ticks: 'outside', ticklen: 3.5, tickcolor: '#333',
    tickfont: {family: FONT, size: 10, color: '#222'},
    title: {text: 'SAR - SFMR bias [m/s]', font: {family: FONT, size: 10, color: '#222'}, standoff: 6}
  };

  const xs = [], ms = [], us = [], ls = [];
  bins.forEach((b, i) => {
    if (means[p][i] !== null) { xs.push(b); ms.push(means[p][i]); us.push(uppers[p][i]); ls.push(lowers[p][i]); }
  });
  traces.push({x: xs, y: ls, xaxis: xa, yaxis: ya, type: 'scatter', mode: 'lines',
    line: {width: 0, color: 'rgba(0,0,0,0)'}, hoverinfo: 'skip'});
  traces.push({x: xs, y: us, xaxis: xa, yaxis: ya, type: 'scatter', mode: 'lines',
    fill: 'tonexty', fillcolor: 'rgba(128,128,128,0.5)', line: {width: 0, color: 'rgba(0,0,0,0)'}, hoverinfo: 'skip'});
  traces.push({x: points[p].map(q => q[0]), y: points[p].map(q => q[1]), xaxis: xa, yaxis: ya,
    type: 'scatter', mode: 'markers', marker: {color: pointColors[p], size: 5, opacity: 0.85}});
  traces.push({x: xs, y: us, xaxis: xa, yaxis: ya, type: 'scatter', mode: 'lines', line: {color: '#000', width: 1.5}});
  traces.push({x: xs, y: ls, xaxis: xa, yaxis: ya, type: 'scatter', mode: 'lines', line: {color: '#000', width: 1.5}});
  traces.push({x: xs, y: ms, xaxis: xa, yaxis: ya, type: 'scatter', mode: 'lines+markers',
    line: {color: '#000', width: 1.5}, marker: {color: '#000', size: 8.5}});

  boundaries.forEach(b => layout.shapes.push({type: 'line', xref: xa, yref: ya + ' domain', x0: b, x1: b, y0: 0, y1: 1,
    line: {color: '#222', width: 1.5, dash: '6px,2.5px'}, layer: 'above'}));
  layout.shapes.push({type: 'line', xref: xa + ' domain', yref: ya, x0: 0, x1: 1, y0: refY, y1: refY,
    line: {color: '#000', width: 2}, layer: 'above'});
  layout.shapes.push({type: 'rect', xref: xa + ' domain', yref: ya + ' domain', x0: 0.970, x1: 0.987, y0: 0.022, y1: 0.058,
    line: {color: '#cccccc', width: 1}, fillcolor: 'rgba(255,255,255,0.8)', layer: 'above'});

  // stat boxes
  boxCenters.forEach((c, k) => {
    const lines = ['Npts: ' + statNpts[p][k],
      'Bias: ' + fmt(statBias[p][k], ' m/s'),
      'Std: ' + fmt(statStd[p][k], ' m/s'),
      'SI: ' + fmt(statSI[p][k], '%'),
      'R: ' + fmt(statR[p][k], '')];
    const wpx = Math.max(...lines.map(l => measureCtx.measureText(l).width)) + 11;
    const hw = wpx / 2 / pxPerDeg;
    const x0 = c - hw, x1 = c + hw;
    const y1 = 1 - 8 / plotH, y0 = 1 - 73.3 / plotH;
    const rx = 3.5 / pxPerDeg, ry = 3.5 / plotH;
    const path = `M${x0+rx},${y1} L${x1-rx},${y1} Q${x1},${y1} ${x1},${y1-ry} L${x1},${y0+ry} Q${x1},${y0} ${x1-rx},${y0} ` +
                 `L${x0+rx},${y0} Q${x0},${y0} ${x0},${y0+ry} L${x0},${y1-ry} Q${x0},${y1} ${x0+rx},${y1} Z`;
    layout.shapes.push({type: 'path', xref: xa, yref: ya + ' domain', path: path,
      fillcolor: 'rgba(255,255,255,0.6)', line: {color: '#b4b4b4', width: 1}, layer: 'above'});
    lines.forEach((t, j) => {
      layout.annotations.push({xref: xa, yref: ya + ' domain', x: c, y: 1 - (15.6 + 12.35 * j) / plotH,
        xanchor: 'center', yanchor: 'middle', text: t, showarrow: false,
        font: {family: FONT, size: BOXFONT, color: '#222'}});
    });
  });

  layout.annotations.push({xref: 'paper', yref: 'paper', x: (colX[col][0] + colX[col][1]) / 2 / W,
    y: 1 - (top - 11) / H, xanchor: 'center', yanchor: 'middle', showarrow: false,
    text: panelTitles[p], font: {family: FONT, size: 12, color: '#111'}});
}
rowTitles.forEach((t, r) => {
  layout.annotations.push({xref: 'paper', yref: 'paper', x: 0.5, y: 1 - (rowTop[r] - 25.7) / H,
    xanchor: 'center', yanchor: 'middle', showarrow: false, text: t, font: {family: FONT, size: 12, color: '#111'}});
});

Plotly.newPlot('chart', traces, layout, {staticPlot: true, displayModeBar: false});
</script></body></html>
